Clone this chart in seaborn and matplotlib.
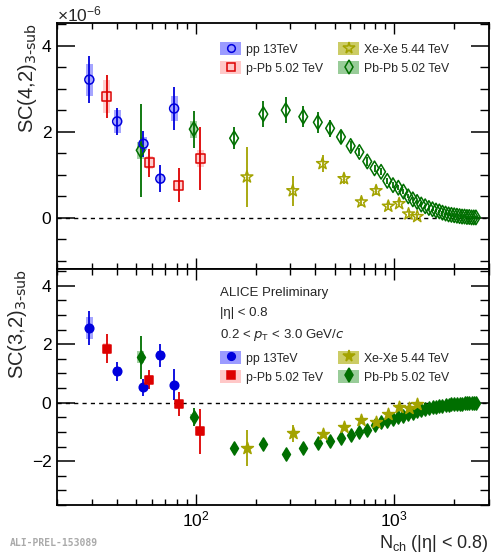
import matplotlib
matplotlib.use('Agg')
import matplotlib.pyplot as plt
from matplotlib.patches import Patch
from matplotlib.lines import Line2D
from matplotlib.ticker import MultipleLocator, NullFormatter, LogLocator
import seaborn as sns

# ---- data (top panel in units of 1e-6) ----
# pp 13 TeV
pp_nch = [29.1, 40.2, 54.5, 66.3, 77.8]
pp_sc42 = [3.21, 2.24, 1.72, 0.91, 2.54]
pp_sc42_err = [0.54, 0.31, 0.30, 0.31, 0.50]
pp_sc42_sys = [0.37, 0.27, 0.15, 0.10, 0.30]
pp_sc32 = [2.56, 1.07, 0.52, 1.62, 0.62]
pp_sc32_err = [0.58, 0.32, 0.30, 0.40, 0.54]
pp_sc32_sys = [0.38, 0.15, 0.12, 0.15, 0.10]

# p-Pb 5.02 TeV
ppb_nch = [35.6, 58.3, 82.0, 105.5]
ppb_sc42 = [2.82, 1.28, 0.76, 1.38]
ppb_sc42_err = [0.49, 0.32, 0.39, 0.73]
ppb_sc42_sys = [0.39, 0.15, 0.10, 0.20]
ppb_sc32 = [1.85, 0.78, -0.03, -0.98]
ppb_sc32_err = [0.49, 0.33, 0.41, 0.78]
ppb_sc32_sys = [0.20, 0.15, 0.10, 0.15]

# Xe-Xe 5.44 TeV
xexe_nch = [181, 308, 435, 558, 683, 810, 933, 1058, 1180, 1305]
xexe_sc42 = [0.95, 0.63, 1.26, 0.91, 0.37, 0.63, 0.27, 0.33, 0.09, 0.03]
xexe_sc42_err = [0.70, 0.35, 0.20, 0.12, 0.10, 0.10, 0.08, 0.08, 0.06, 0.05]
xexe_sc32 = [-1.55, -1.05, -1.07, -0.83, -0.59, -0.65, -0.39, -0.15, -0.19, -0.05]
xexe_sc32_err = [0.63, 0.30, 0.15, 0.10, 0.08, 0.08, 0.07, 0.06, 0.06, 0.05]

# Pb-Pb 5.02 TeV
pbpb_nch = [52.8, 97.7, 156, 219, 284, 348, 412, 475, 539, 603, 667, 731, 795,
            858, 922, 985, 1048, 1112, 1176, 1240, 1303, 1367, 1431, 1494, 1558,
            1622, 1686, 1749, 1813, 1877, 1940, 2004, 2068, 2132, 2195, 2259,
            2323, 2386, 2450, 2514, 2577]
pbpb_sc42 = [1.57, 2.06, 1.85, 2.41, 2.50, 2.35, 2.22, 2.08, 1.88, 1.67, 1.53,
             1.31, 1.15, 1.07, 0.86, 0.76, 0.70, 0.61, 0.50, 0.43, 0.37, 0.31,
             0.27, 0.23, 0.20, 0.17, 0.15, 0.12, 0.10, 0.08, 0.07, 0.06, 0.05,
             0.04, 0.03, 0.03, 0.02, 0.02, 0.01, 0.01, 0.01]
pbpb_sc42_err = [1.08, 0.43, 0.25, 0.30, 0.30, 0.25, 0.25, 0.20, 0.15, 0.12, 0.10,
                 0.10, 0.08, 0.08, 0.07, 0.07, 0.06, 0.06, 0.05, 0.05, 0.05, 0.05,
                 0.04, 0.04, 0.04, 0.04, 0.04, 0.04, 0.03, 0.03, 0.03, 0.03, 0.03,
                 0.03, 0.03, 0.03, 0.03, 0.03, 0.03, 0.03, 0.03]
pbpb_sc42_sys = [0.20, 0.20]
pbpb_sc32 = [1.55, -0.49, -1.56, -1.42, -1.77, -1.55, -1.38, -1.31, -1.22, -1.10,
             -1.00, -0.93, -0.75, -0.66, -0.62, -0.57, -0.50, -0.44, -0.39, -0.34,
             -0.30, -0.26, -0.22, -0.19, -0.16, -0.14, -0.12, -0.10, -0.08, -0.07,
             -0.06, -0.05, -0.04, -0.03, -0.03, -0.02, -0.02, -0.01, -0.01, -0.01, 0.0]
pbpb_sc32_err = [0.73, 0.32, 0.15, 0.13, 0.20, 0.13, 0.12, 0.10, 0.10, 0.08, 0.08,
                 0.07, 0.07, 0.06, 0.06, 0.06, 0.05, 0.05, 0.05, 0.05, 0.04, 0.04,
                 0.04, 0.04, 0.04, 0.03, 0.03, 0.03, 0.03, 0.03, 0.03, 0.03, 0.03,
                 0.03, 0.03, 0.03, 0.03, 0.03, 0.03, 0.03, 0.03]
pbpb_sc32_sys = [0.20, 0.10]

labels = ['pp 13TeV', 'p-Pb 5.02 TeV', 'Xe-Xe 5.44 TeV', 'Pb-Pb 5.02 TeV']

BLUE, BLUE_L = '#0000dd', '#9b9bff'
RED, RED_L = '#dd0000', '#ffc8c8'
OLIVE, OLIVE_L = '#a3a300', '#cccc66'
GREEN, GREEN_L = '#006f00', '#99cc99'

sns.set_theme(style='ticks')
plt.rcParams['font.family'] = ['Liberation Sans', 'DejaVu Sans']
plt.rcParams['mathtext.default'] = 'regular'
plt.rcParams['axes.unicode_minus'] = True

fig = plt.figure(figsize=(5.0, 5.56), dpi=100)
ax1 = fig.add_axes([0.114, 0.516, 0.864, 0.443])
ax2 = fig.add_axes([0.114, 0.0917, 0.864, 0.4245])


def sys_boxes(ax, x, y, sys, color):
    left = [v * 10 ** -0.018 for v in x]
    width = [v * 10 ** 0.018 - l for v, l in zip(x, left)]
    bottom = [a - b for a, b in zip(y, sys)]
    height = [2 * b for b in sys]
    ax.bar(left, height, width=width, bottom=bottom, align='edge',
           color=color, edgecolor='none', zorder=2, alpha=0.9)


def series(ax, x, y, err, color, marker, size, filled):
    ax.errorbar(x, y, yerr=err, fmt='none', ecolor=color, elinewidth=1.3,
                capsize=0, zorder=3)
    sns.scatterplot(x=x, y=y, ax=ax, marker=marker, s=size,
                    facecolor=color if filled else 'none', edgecolor=color,
                    linewidth=1.1, zorder=5)


# top panel: SC(4,2), open markers
sys_boxes(ax1, pp_nch, pp_sc42, pp_sc42_sys, BLUE_L)
sys_boxes(ax1, ppb_nch, ppb_sc42, ppb_sc42_sys, RED_L)
sys_boxes(ax1, pbpb_nch[:2], pbpb_sc42[:2], pbpb_sc42_sys, GREEN_L)
series(ax1, pbpb_nch, pbpb_sc42, pbpb_sc42_err, GREEN, 'd', 55, False)
series(ax1, xexe_nch, xexe_sc42, xexe_sc42_err, OLIVE, '*', 80, False)
series(ax1, pp_nch, pp_sc42, pp_sc42_err, BLUE, 'o', 42, False)
series(ax1, ppb_nch, ppb_sc42, ppb_sc42_err, RED, 's', 40, False)

# bottom panel: SC(3,2), full markers
sys_boxes(ax2, pp_nch, pp_sc32, pp_sc32_sys, BLUE_L)
sys_boxes(ax2, ppb_nch, ppb_sc32, ppb_sc32_sys, RED_L)
sys_boxes(ax2, pbpb_nch[:2], pbpb_sc32[:2], pbpb_sc32_sys, GREEN_L)
series(ax2, pbpb_nch, pbpb_sc32, pbpb_sc32_err, GREEN, 'd', 45, True)
series(ax2, xexe_nch, xexe_sc32, xexe_sc32_err, OLIVE, '*', 80, True)
series(ax2, pp_nch, pp_sc32, pp_sc32_err, BLUE, 'o', 38, True)
series(ax2, ppb_nch, ppb_sc32, ppb_sc32_err, RED, 's', 38, True)

for ax, ylim in [(ax1, (-1.19, 4.53)), (ax2, (-3.5, 4.57))]:
    ax.set_xscale('log')
    ax.set_xlim(20, 3000)
    ax.set_ylim(*ylim)
    ax.axhline(0, color='black', ls=(0, (3, 3)), lw=1.0, zorder=1)
    ax.yaxis.set_major_locator(MultipleLocator(2))
    ax.yaxis.set_minor_locator(MultipleLocator(0.5))
    ax.xaxis.set_minor_locator(LogLocator(base=10, subs=range(2, 10)))
    ax.xaxis.set_minor_formatter(NullFormatter())
    ax.tick_params(which='both', direction='in', top=True, right=True,
                   labelsize=12.5, colors='black')
    ax.tick_params(axis='y', which='major', length=13, width=1.1, pad=4)
    ax.tick_params(axis='y', which='minor', length=6.5, width=1.0)
    ax.tick_params(axis='x', which='major', length=8, width=1.0)
    ax.tick_params(axis='x', which='minor', length=4.5, width=1.0)
    for s in ax.spines.values():
        s.set_linewidth(1.3)
        s.set_color('black')

ax1.tick_params(labelbottom=False)
ax1.set_ylabel(r'SC(4,2)$_{\text{3-sub}}$', fontsize=14.5, loc='top', labelpad=2)
ax2.set_ylabel(r'SC(3,2)$_{\text{3-sub}}$', fontsize=14.5, loc='top', labelpad=2)
ax2.set_xlabel(r'N$_{ch}$ (|η| < 0.8)', fontsize=13, loc='right', labelpad=2)
ax1.text(0.0, 0.995, r'$\times$10$^{-6}$', transform=ax1.transAxes,
         fontsize=12.5, va='bottom', ha='left')

# legends
def make_handles(filled):
    out = []
    for c, l, m, ms in [(BLUE, BLUE_L, 'o', 5.5), (RED, RED_L, 's', 5.5),
                        (OLIVE, OLIVE_L, '*', 8.5), (GREEN, GREEN_L, 'd', 7)]:
        out.append((Patch(facecolor=l, edgecolor='none'),
                    Line2D([], [], ls='none', marker=m, ms=ms, mec=c,
                           mfc=c if filled else 'none', mew=1.1)))
    return out

leg_kw = dict(ncol=2, frameon=False, fontsize=8.8, handlelength=1.75,
              handleheight=1.2, handletextpad=0.4, columnspacing=1.2,
              labelspacing=0.45, borderaxespad=0, loc='upper left')
ax1.legend(make_handles(False), labels, bbox_to_anchor=(0.366, 0.94), **leg_kw)
ax2.legend(make_handles(True), labels, bbox_to_anchor=(0.366, 0.672), **leg_kw)

ax2.text(0.377, 0.90, 'ALICE Preliminary', transform=ax2.transAxes,
         fontsize=9.5, va='center')
ax2.text(0.377, 0.812, '|η| < 0.8', transform=ax2.transAxes,
         fontsize=9.5, va='center')
ax2.text(0.377, 0.722, r'0.2 < $\mathit{p}_{T}$ < 3.0 GeV/$\mathit{c}$',
         transform=ax2.transAxes, fontsize=9.5, va='center')

fig.text(0.02, 0.015, 'ALI-PREL-153089', fontsize=7, color='#aaaaaa',
         family='DejaVu Sans Mono', weight='bold', va='bottom')

fig.savefig('out.png', dpi=100)
